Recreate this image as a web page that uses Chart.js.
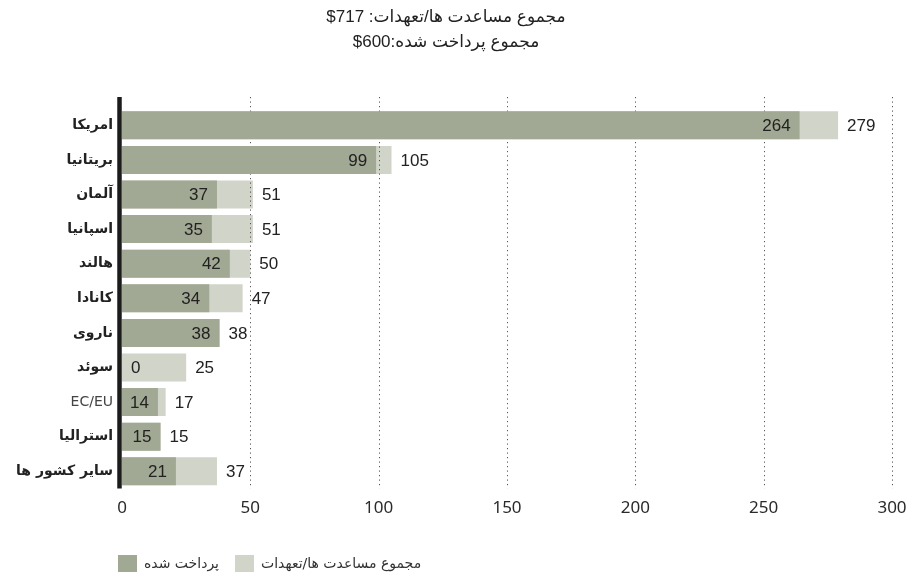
<!DOCTYPE html>
<html lang="fa">
<head>
<meta charset="UTF-8">
<title>مجموع مساعدت ها</title>
<script src="https://cdn.jsdelivr.net/npm/chart.js"></script>
<style>
  body { margin: 0; background: #fff; }
  .wrap { width: 919px; height: 583px; position: relative; }
</style>
</head>
<body>
<div class="wrap">
  <canvas id="aidChart" dir="rtl"></canvas>
</div>
<script>
// chart data
const countries = ['امریکا', 'بریتانیا', 'آلمان', 'اسپانیا', 'هالند', 'کانادا', 'ناروی', 'سوئد', 'EC/EU', 'استرالیا', 'سایر کشور ها'];
const paid = [264, 99, 37, 35, 42, 34, 38, 0, 14, 15, 21];
const pledged = [279, 105, 51, 51, 50, 47, 38, 25, 17, 15, 37];
const xTicks = [0, 50, 100, 150, 200, 250, 300];
// the dollar amounts are isolated so they keep "$" in front
const titleLines = ['مجموع مساعدت ها/تعهدات: \u2066$717\u2069', 'مجموع پرداخت شده:\u2066$600\u2069'];
const seriesNames = ['پرداخت شده', 'مجموع مساعدت ها/تعهدات'];

const DARK = '#a1a893';
const LIGHT = '#d1d4c9';
const numFont = '"Liberation Sans", Arial, sans-serif';

const gridPlugin = {
    id: 'dottedGrid',
    // dotted grid goes over the light bars but under the dark ones
    afterDatasetDraw(chart, args) {
        if (args.index !== 1) return;
        const {ctx, chartArea, scales: {x}} = chart;
        ctx.save();
        ctx.strokeStyle = '#555';
        ctx.lineWidth = 1;
        ctx.setLineDash([1.2, 3.3]);
        xTicks.slice(1).forEach(v => {
            const px = Math.round(x.getPixelForValue(v)) + 0.5;
            ctx.beginPath();
            ctx.moveTo(px, chartArea.top - 11);
            ctx.lineTo(px, chartArea.bottom);
            ctx.stroke();
        });
        ctx.restore();
    },
    afterDatasetsDraw(chart) {
        const {ctx, chartArea, scales: {x}} = chart;
        ctx.save();
        // thick zero axis
        const x0 = x.getPixelForValue(0);
        ctx.strokeStyle = '#1b1b1b';
        ctx.lineWidth = 4.5;
        ctx.beginPath();
        ctx.moveTo(x0 - 2.5, chartArea.top - 11);
        ctx.lineTo(x0 - 2.5, chartArea.bottom);
        ctx.stroke();

        // value labels
        ctx.font = '17px ' + numFont;
        ctx.fillStyle = '#222';
        ctx.textBaseline = 'middle';
        chart.getDatasetMeta(0).data.forEach((bar, i) => {
            if (paid[i] > 0) {
                ctx.textAlign = 'right';
                ctx.fillText(paid[i], bar.x - 9, bar.y + 1);
            } else {
                ctx.textAlign = 'left';
                ctx.fillText(paid[i], bar.base + 9, bar.y + 1);
            }
        });
        chart.getDatasetMeta(1).data.forEach((bar, i) => {
            ctx.textAlign = 'left';
            ctx.fillText(pledged[i], bar.x + 9, bar.y + 1);
        });
        ctx.restore();
    },
    afterLayout(chart) {
        // legend sits under the axis, lined up with the zero line
        const pad = chart.options.plugins.legend.labels.padding;
        chart.legend.left = chart.chartArea.left - 4 - pad;
        chart.legend.top = 555 - pad;
    }
};

const ctx = document.getElementById('aidChart').getContext('2d');
new Chart(ctx, {
    type: 'bar',
    data: {
        labels: countries,
        datasets: [
            {
                label: seriesNames[0],
                data: paid,
                backgroundColor: DARK,
                grouped: false,
                barPercentage: 0.81,
                categoryPercentage: 1
            },
            {
                label: seriesNames[1],
                data: pledged,
                backgroundColor: LIGHT,
                grouped: false,
                barPercentage: 0.81,
                categoryPercentage: 1
            }
        ]
    },
    options: {
        indexAxis: 'y',
        responsive: true,
        maintainAspectRatio: false,
        animation: false,
        layout: { padding: { left: 0, right: 27, top: 0, bottom: 11 } },
        scales: {
            x: {
                min: 0,
                max: 300,
                afterBuildTicks: scale => { scale.ticks = xTicks.map(v => ({ value: v })); },
                grid: { display: false, drawTicks: false },
                border: { display: false },
                ticks: {
                    padding: 9,
                    color: '#2a2a2a',
                    font: { family: '"Noto Sans", sans-serif', size: 17 }
                }
            },
            y: {
                afterFit: scale => { scale.width = 122; },
                grid: { display: false, drawTicks: false },
                border: { display: false },
                ticks: {
                    padding: 9,
                    color: ctx => countries[ctx.index] === 'EC/EU' ? '#444' : '#222',
                    font: ctx => ({
                        family: '"DejaVu Sans", sans-serif',
                        size: 14,
                        weight: countries[ctx.index] === 'EC/EU' ? 'normal' : 'bold'
                    })
                }
            }
        },
        plugins: {
            title: {
                display: true,
                text: titleLines,
                color: '#222',
                font: { family: '"Liberation Sans", "DejaVu Sans", sans-serif', size: 17, weight: 'normal', lineHeight: '25px' },
                padding: { top: 5, bottom: 53 }
            },
            legend: {
                position: 'bottom',
                align: 'start',
                labels: {
                    boxWidth: 19,
                    boxHeight: 19,
                    padding: 16,
                    color: '#333',
                    font: { family: '"DejaVu Sans", sans-serif', size: 14 }
                }
            },
            tooltip: { enabled: false }
        }
    },
    plugins: [gridPlugin]
});
</script>
</body>
</html>
